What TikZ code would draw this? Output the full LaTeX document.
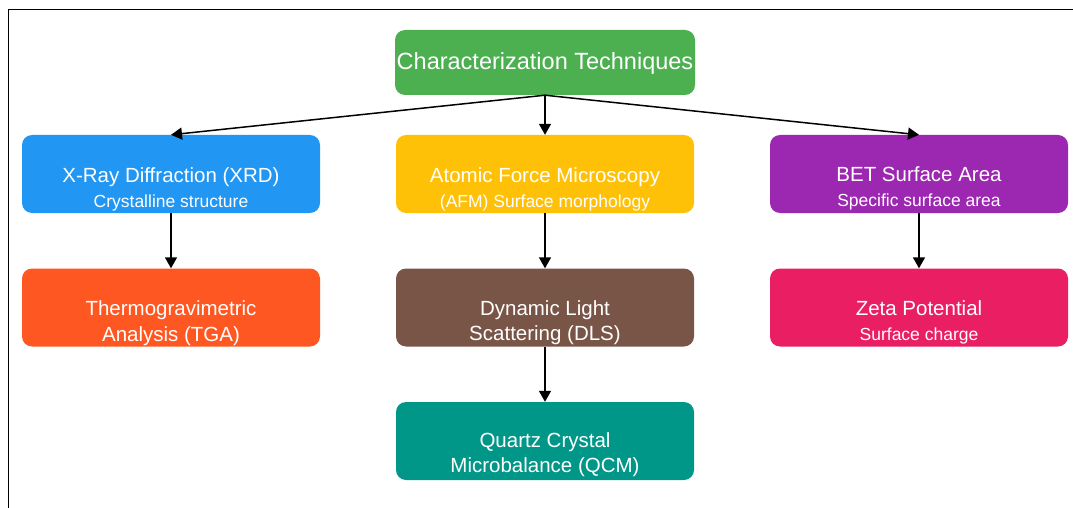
\documentclass[tikz,border=0pt]{standalone}
\usepackage{fontspec}
\setmainfont{Liberation Sans}
\usetikzlibrary{arrows.meta}
\definecolor{cgreen}{HTML}{4CAF50}
\definecolor{cblue}{HTML}{2196F3}
\definecolor{camber}{HTML}{FFC107}
\definecolor{cpurple}{HTML}{9C27B0}
\definecolor{corange}{HTML}{FF5722}
\definecolor{cbrown}{HTML}{795548}
\definecolor{cpink}{HTML}{E91E63}
\definecolor{cteal}{HTML}{009688}
\tikzset{
  box/.style={rectangle, rounded corners=10pt, draw=none, minimum width=298pt, minimum height=78pt, inner sep=0pt},
  rootbox/.style={box, minimum width=300pt, minimum height=65pt},
  txt/.style={text=white, anchor=base, align=center, inner sep=0pt, font=\fontsize{20.5}{25.5}\selectfont},
  roottxt/.style={txt, font=\fontsize{23.5}{28}\selectfont},
  arr/.style={line width=1.5pt, -{Triangle[width=12pt,length=11pt]}},
}
\newcommand{\subl}[1]{{\fontsize{17.5}{25.5}\selectfont #1}}
\begin{document}
\begin{tikzpicture}[x=1pt,y=-1pt]
\useasboundingbox (0,0) rectangle (1073,508);
\draw[line width=1.8pt] (8.5,508) -- (8.5,9.5) -- (1073,9.5);

\node[rootbox, fill=cgreen] (root) at (545,62.5) {};
\node[box, fill=cblue]   (xrd)  at (171,174) {};
\node[box, fill=camber]  (afm)  at (545,174) {};
\node[box, fill=cpurple] (bet)  at (919,174) {};
\node[box, fill=corange] (tga)  at (171,307.5) {};
\node[box, fill=cbrown]  (dls)  at (545,307.5) {};
\node[box, fill=cpink]   (zeta) at (919,307.5) {};
\node[box, fill=cteal]   (qcm)  at (545,441) {};

\node[roottxt] (roott) at ([yshift=-40pt]root.north) {Characterization Techniques};
\node[txt] (xrdt)  at ([yshift=-73pt]xrd.north)  {X-Ray Diffraction (XRD)\\\subl{Crystalline structure}};
\node[txt] (afmt)  at ([yshift=-73pt]afm.north)  {Atomic Force Microscopy\\\subl{(AFM) Surface morphology}};
\node[txt] (bett)  at ([yshift=-72pt]bet.north)  {BET Surface Area\\\subl{Specific surface area}};
\node[txt] (tgat)  at ([yshift=-73pt]tga.north)  {Thermogravimetric\\Analysis (TGA)};
\node[txt] (dlst)  at ([yshift=-72.5pt]dls.north)  {Dynamic Light\\Scattering (DLS)};
\node[txt] (zetat) at ([yshift=-72.5pt]zeta.north) {Zeta Potential\\\subl{Surface charge}};
\node[txt] (qcmt)  at ([yshift=-71pt]qcm.north)  {Quartz Crystal\\Microbalance (QCM)};

\draw[arr] (root.south) -- (xrd.north);
\draw[arr] (root.south) -- (afm.north);
\draw[arr] (root.south) -- (bet.north);
\draw[arr] (xrd.south) -- (tga.north);
\draw[arr] (afm.south) -- (dls.north);
\draw[arr] (bet.south) -- (zeta.north);
\draw[arr] (dls.south) -- (qcm.north);
\end{tikzpicture}
\end{document}
